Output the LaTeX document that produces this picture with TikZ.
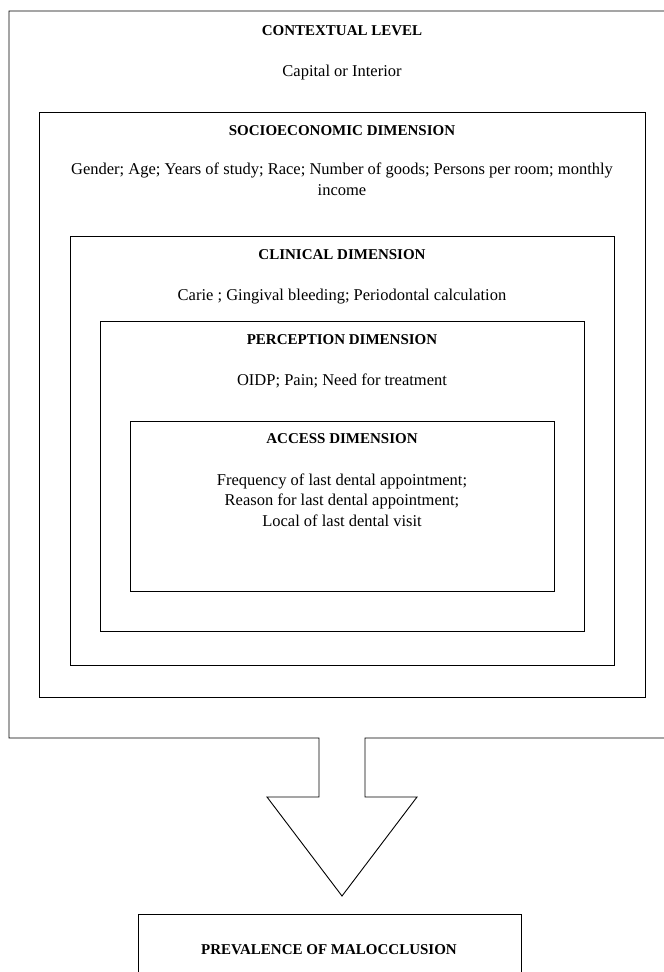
\documentclass[tikz,border=0pt]{standalone}
\usepackage{fontspec}
\setmainfont{Liberation Serif}
\usetikzlibrary{positioning}

\begin{document}
\begin{tikzpicture}[x=1pt,y=-1pt,
	frame/.style={draw,line width=0.9pt,anchor=north west,inner sep=0pt},
	head/.style={anchor=base,inner sep=0pt,font=\fontsize{15}{18}\selectfont\bfseries},
	item/.style={anchor=base,inner sep=0pt,align=center,font=\fontsize{16.5}{20.5}\selectfont}]
	\useasboundingbox (0,0) rectangle (664,972);
	\clip (0,0) rectangle (664,972);
	% contextual level, open at the bottom into the arrow
	\draw[line width=0.9pt] (365,738) -- (675,738) -- (675,11) -- (9,11) -- (9,738) -- (319,738)
		-- (319,797) -- (267,797) -- (342,896) -- (417,797) -- (365,797) -- cycle;
	\node[head] (ctxhead) at (342,35) {CONTEXTUAL LEVEL};
	\node[item] (ctxitem) at (342,76) {Capital or Interior};
	% nested dimensions (base of a wrapped text = its last line)
	\node[frame,minimum width=606pt,minimum height=585pt] (socio) at (39,112) {};
	\node[head] (sochead) at (342,135) {SOCIOECONOMIC DIMENSION};
	\node[item] (socitem) at (342,195) {Gender; Age; Years of study; Race; Number of goods; Persons per room; monthly\\income};
	\node[frame,minimum width=544pt,minimum height=429pt] (clin) at (70,236) {};
	\node[head] (clinhead) at (342,259) {CLINICAL DIMENSION};
	\node[item] (clinitem) at (342,300) {Carie ; Gingival bleeding; Periodontal calculation};
	\node[frame,minimum width=484pt,minimum height=310pt] (perc) at (100,321) {};
	\node[head] (perchead) at (342,344) {PERCEPTION DIMENSION};
	\node[item] (percitem) at (342,385) {OIDP; Pain; Need for treatment};
	\node[frame,minimum width=424pt,minimum height=170pt] (access) at (130,421) {};
	\node[head] (acchead) at (342,443) {ACCESS DIMENSION};
	\node[item] (accitem) at (342,526) {Frequency of last dental appointment;\\Reason for last dental appointment;\\Local of last dental visit};
	% outcome
	\node[frame,minimum width=383pt,minimum height=80pt] (prev) at (138,914) {};
	\node[head] (prevhead) at (329,954) {PREVALENCE OF MALOCCLUSION};
\end{tikzpicture}
\end{document}
